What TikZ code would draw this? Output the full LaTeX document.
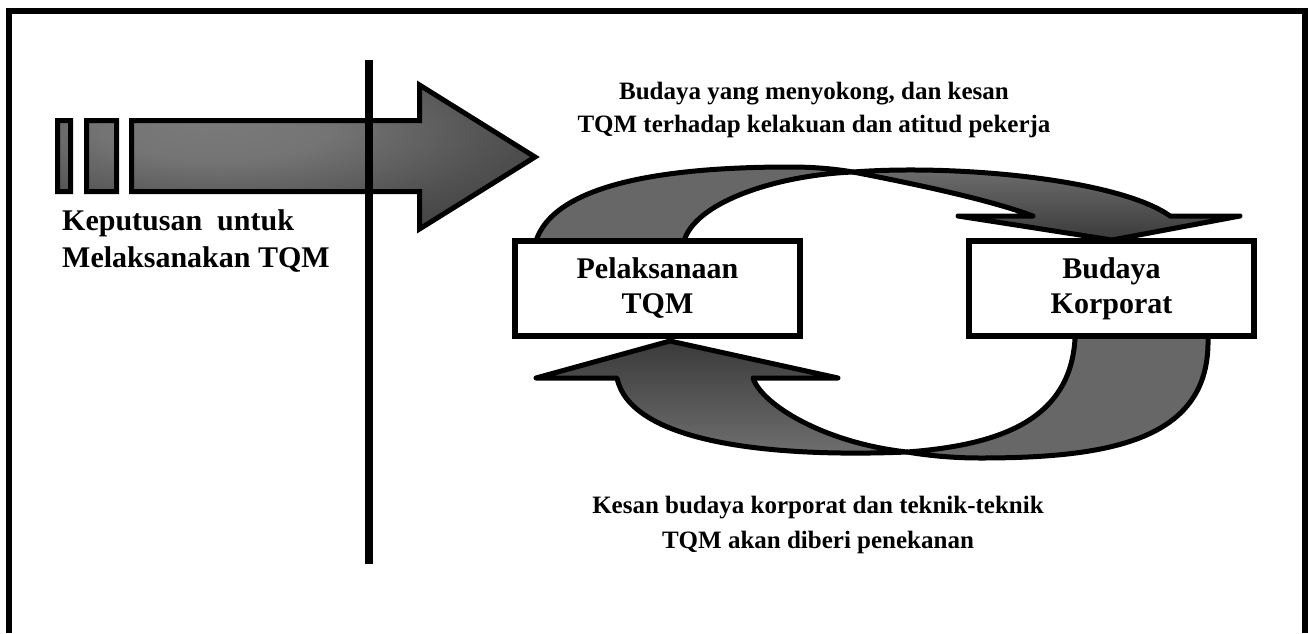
\documentclass[tikz,border=0pt]{standalone}
\usepackage{fontspec}
\setmainfont{Liberation Serif}

\definecolor{bandgray}{HTML}{676767}
\definecolor{banddark}{HTML}{3A3A3A}
\definecolor{bandlight}{HTML}{707070}
\definecolor{glowlight}{HTML}{7A7A7A}
\definecolor{glowmid}{HTML}{525252}
\definecolor{glowdark}{HTML}{3B3B3B}

% soft highlight on the decision arrow, brightest towards its upper left
\pgfdeclareradialshading{arrowglow}{\pgfpoint{-9.6bp}{12bp}}{%
  color(0bp)=(glowlight); color(12bp)=(glowlight!85!glowmid);
  color(28bp)=(glowmid); color(42bp)=(glowdark); color(100bp)=(glowdark)}

\begin{document}
\begin{tikzpicture}[x=1pt, y=-1pt,
  outline/.style={draw=black, line width=5pt, line join=round},
  backband/.style={outline, fill=bandgray},
  frontdown/.style={outline, top color=bandlight, bottom color=banddark},
  frontup/.style={outline, top color=banddark, bottom color=bandlight},
  bigarrow/.style={draw=black, line width=5pt, line join=miter, shading=arrowglow},
  labelbox/.style={draw=black, line width=6pt, fill=white,
    minimum width=285pt, minimum height=95pt, inner sep=0pt, align=center,
    font=\bfseries\fontsize{30}{35}\selectfont},
  note/.style={inner sep=0pt, align=center, font=\bfseries\fontsize{25}{32.5}\selectfont}
]
\useasboundingbox (0,0) rectangle (1309,633);

% open frame (no bottom edge)
\coordinate (fbl) at (9,633);
\coordinate (ftl) at (9,11);
\coordinate (ftr) at (1305,11);
\coordinate (fbr) at (1305,633);
\draw[line width=6.5pt, line join=miter] (fbl) -- (ftl) -- (ftr) -- (fbr);

% decision arrow: two tail blocks and the arrow body
\draw[bigarrow]
  (57.5,120.5) rectangle (70.5,191.5)
  (86.5,120.5) rectangle (116.5,191.5)
  (131.5,120.5) -- (419.5,120.5) -- (419.5,85) -- (535,157)
  -- (419.5,229) -- (419.5,191.5) -- (131.5,191.5) -- cycle;

% dividing line
\coordinate (divtop) at (369,60);
\coordinate (divbot) at (369,564);
\draw[line width=8pt] (divtop) -- (divbot);

% upper loop arrow: rear band rising from the left box
\path[backband] (537,242) -- (537,238)
  .. controls (560,180) and (680,167) .. (790,167)
  .. controls (815,167) and (835,169) .. (853,172)
  .. controls (780,175) and (700,200) .. (685,238) -- (685,242) -- cycle;
% upper loop arrow: front band and head onto the right box
\path[frontdown] (853,172)
  .. controls (960,164) and (1120,180) .. (1170,216)
  -- (1240,216) -- (1112,240) -- (958,216) -- (1033,216)
  .. controls (990,200) and (920,185) .. (853,172) -- cycle;

% lower loop arrow: rear band leaving the right box
\path[backband] (1075,335) -- (1208,335) -- (1208,339)
  .. controls (1210,440) and (1110,458) .. (980,458)
  .. controls (950,458) and (925,455) .. (907,452)
  .. controls (1000,445) and (1070,420) .. (1075,339) -- cycle;
% lower loop arrow: front band and head onto the left box
\path[frontup] (907,452)
  .. controls (760,458) and (630,440) .. (617,378)
  -- (536,378) -- (670,341) -- (838,378) -- (753,378)
  .. controls (762,405) and (825,443) .. (907,452) -- cycle;

% the two stages
\node[labelbox] (impl) at (657.5,288.5) {Pelaksanaan\\TQM};
\node[labelbox] (culture) at (1111.5,288.5) {Budaya\\Korporat};

% captions
\node[note, align=left, anchor=west, font=\bfseries\fontsize{30}{37}\selectfont]
  (decision) at (62,241) {Keputusan\ \ untuk\\Melaksanakan TQM};
\node[note] (support) at (814,110)
  {Budaya yang menyokong, dan kesan\\TQM terhadap kelakuan dan atitud pekerja};
\node[note, font=\bfseries\fontsize{25}{35}\selectfont] (emphasis) at (818,525)
  {Kesan budaya korporat dan teknik-teknik\\TQM akan diberi penekanan};
\end{tikzpicture}
\end{document}
